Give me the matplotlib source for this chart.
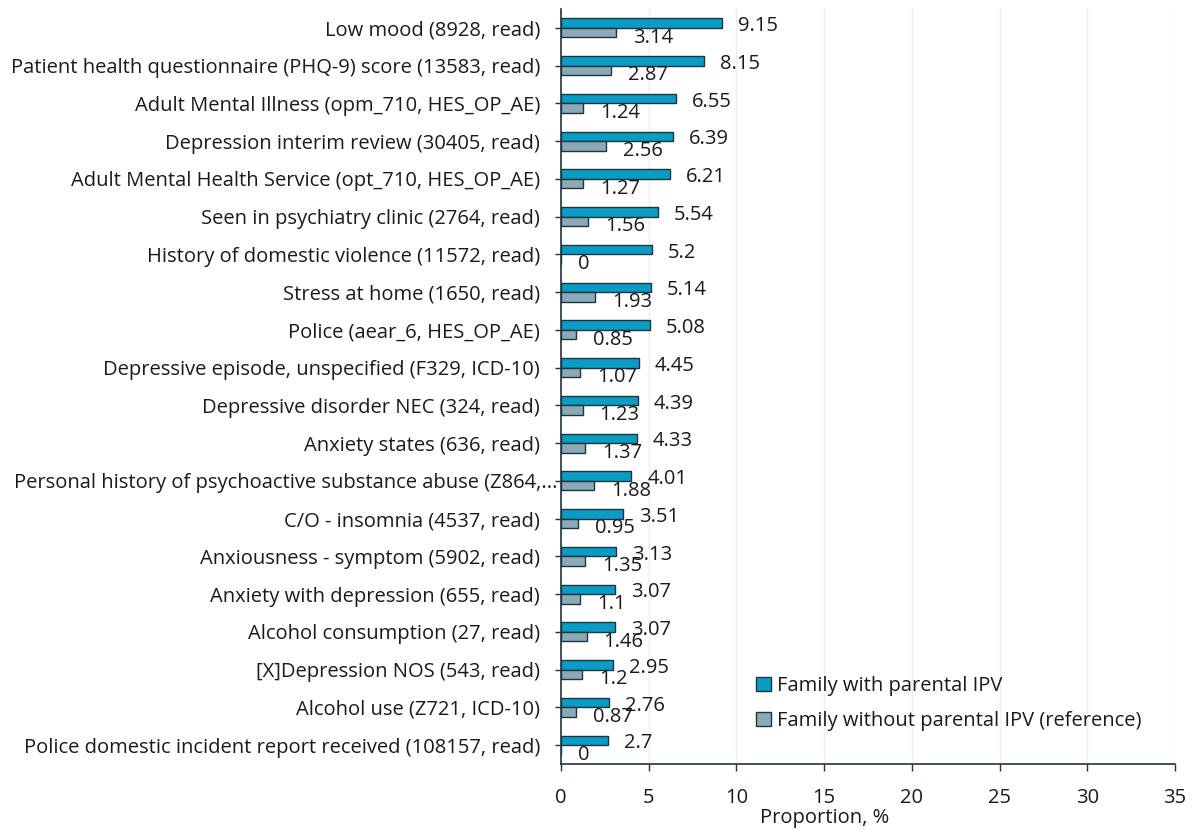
import matplotlib
matplotlib.use("Agg")
import matplotlib.pyplot as plt
import numpy as np
from matplotlib.patches import Patch
from matplotlib.transforms import offset_copy, ScaledTranslation

categories = [
    "Low mood (8928, read)",
    "Patient health questionnaire (PHQ-9) score (13583, read)",
    "Adult Mental Illness (opm_710, HES_OP_AE)",
    "Depression interim review (30405, read)",
    "Adult Mental Health Service (opt_710, HES_OP_AE)",
    "Seen in psychiatry clinic (2764, read)",
    "History of domestic violence (11572, read)",
    "Stress at home (1650, read)",
    "Police (aear_6, HES_OP_AE)",
    "Depressive episode, unspecified (F329, ICD-10)",
    "Depressive disorder NEC (324, read)",
    "Anxiety states (636, read)",
    "Personal history of psychoactive substance abuse (Z864,...",
    "C/O - insomnia (4537, read)",
    "Anxiousness - symptom (5902, read)",
    "Anxiety with depression (655, read)",
    "Alcohol consumption (27, read)",
    "[X]Depression NOS (543, read)",
    "Alcohol use (Z721, ICD-10)",
    "Police domestic incident report received (108157, read)",
]
with_ipv = [9.15, 8.15, 6.55, 6.39, 6.21, 5.54, 5.2, 5.14, 5.08, 4.45,
            4.39, 4.33, 4.01, 3.51, 3.13, 3.07, 3.07, 2.95, 2.76, 2.7]
without_ipv = [3.14, 2.87, 1.24, 2.56, 1.27, 1.56, 0, 1.93, 0.85, 1.07,
               1.23, 1.37, 1.88, 0.95, 1.35, 1.1, 1.46, 1.2, 0.87, 0]
with_labels = ["9.15", "8.15", "6.55", "6.39", "6.21", "5.54", "5.2", "5.14", "5.08", "4.45",
               "4.39", "4.33", "4.01", "3.51", "3.13", "3.07", "3.07", "2.95", "2.76", "2.7"]
without_labels = ["3.14", "2.87", "1.24", "2.56", "1.27", "1.56", "0", "1.93", "0.85", "1.07",
                  "1.23", "1.37", "1.88", "0.95", "1.35", "1.1", "1.46", "1.2", "0.87", "0"]
xticks = [0, 5, 10, 15, 20, 25, 30, 35]

plt.rcParams['font.family'] = ['Open Sans', 'DejaVu Sans']
FS = 14.5
TEAL = "#0a9cc4"
GREY = "#8ba9b6"
EDGE = "#1e3540"
TXT = "#1a1a1a"

fig = plt.figure(figsize=(12.03, 8.30), dpi=100)
ax = fig.add_axes([561/1203, 1-764/830, (1175-561)/1203, (764-9)/830])

y = np.arange(len(categories))
h = 0.25
ax.barh(y - h/2, with_ipv, height=h, color=TEAL, edgecolor=EDGE, linewidth=1.0, zorder=3)
ax.barh(y + h/2, without_ipv, height=h, color=GREY, edgecolor=EDGE, linewidth=1.0, zorder=3)

t1 = offset_copy(ax.transData, fig=fig, x=16, y=-3, units='dots')
t2 = offset_copy(ax.transData, fig=fig, x=17, y=-5, units='dots')
for i in range(len(categories)):
    ax.text(with_ipv[i], y[i] - h/2, with_labels[i], transform=t1, ha='left', va='center',
            fontsize=FS, color=TXT, zorder=4)
    ax.text(without_ipv[i], y[i] + h/2, without_labels[i], transform=t2, ha='left', va='center',
            fontsize=FS, color=TXT, zorder=4)

ax.set_ylim(len(categories) - 0.5, -0.5)
ax.set_xlim(0, 35)
ax.set_yticks(y)
ax.set_yticklabels(categories, fontsize=FS, color=TXT)
ax.set_xticks(xticks)
ax.set_xticklabels([str(v) for v in xticks], fontsize=FS, color=TXT)
ax.tick_params(axis='y', length=4, width=1, pad=11, color=EDGE)
ax.tick_params(axis='x', length=5, width=1, pad=12, color=EDGE)
for s in ['top', 'right']:
    ax.spines[s].set_visible(False)
for s in ['left', 'bottom']:
    ax.spines[s].set_color(EDGE)
    ax.spines[s].set_linewidth(1.2)
ax.grid(axis='x', color='#efefef', linewidth=1, zorder=0)
ax.set_axisbelow(True)
ax.set_xlabel("Proportion, %", fontsize=FS, color=TXT, labelpad=0)
ax.xaxis.set_label_coords(15/35, -0.058)

# the truncated long label overflows towards the axis in the reference
lab = ax.get_yticklabels()[12]
lab.set_transform(lab.get_transform() + ScaledTranslation(17/100, 0, fig.dpi_scale_trans))

handles = [Patch(facecolor=TEAL, edgecolor=EDGE, label="Family with parental IPV"),
           Patch(facecolor=GREY, edgecolor=EDGE, label="Family without parental IPV (reference)")]
leg = ax.legend(handles=handles, loc='upper left', bbox_to_anchor=((756-561)/614, 1-(676-9)/755),
                frameon=False, fontsize=FS, handlelength=0.75, handleheight=0.75,
                handletextpad=0.3, labelspacing=0.75, borderaxespad=0, borderpad=0)
for t in leg.get_texts():
    t.set_color(TXT)

fig.savefig("out.png", dpi=100)
